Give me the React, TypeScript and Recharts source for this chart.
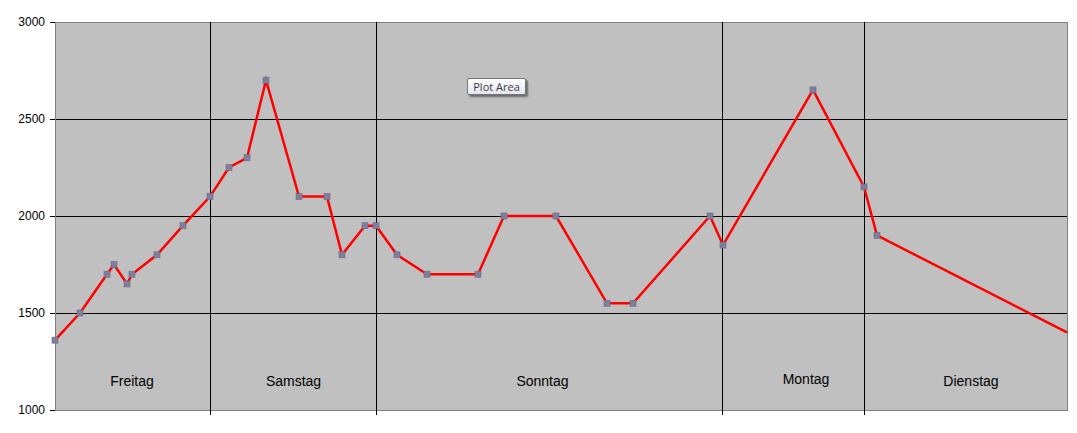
import React from 'react';
import {
  LineChart,
  Line,
  XAxis,
  YAxis,
  CartesianGrid,
  ReferenceArea,
  ReferenceDot,
  ReferenceLine,
} from 'recharts';

// time position (arbitrary units along the axis) and value of each reading
const timePos = [
  0, 2.5, 5.2, 5.9, 7.2, 7.7, 10.2, 12.8, 15.5, 17.4, 19.2, 21.1, 24.4, 27.2,
  28.7, 31.0, 32.1, 34.2, 37.2, 42.3, 44.9, 50.1, 55.2, 57.8, 65.5, 66.8, 75.8,
  80.9, 82.2, 101.2,
];
const values = [
  1360, 1500, 1700, 1750, 1650, 1700, 1800, 1950, 2100, 2250, 2300, 2700, 2100,
  2100, 1800, 1950, 1950, 1800, 1700, 1700, 2000, 2000, 1550, 1550, 2000, 1850,
  2650, 2150, 1900, 1400,
];

// day boundaries and day labels
const dayBoundaries = [15.5, 32.1, 66.7, 80.9];
const dayNames = ['Freitag', 'Samstag', 'Sonntag', 'Montag', 'Dienstag'];
const dayLabelX = [7.7, 23.85, 48.75, 75.1, 91.6];
const dayLabelY = [1150, 1150, 1150, 1160, 1150];

const yTicks = [1000, 1500, 2000, 2500, 3000];
const gridY = [1500, 2000, 2500];
const xDomain = [0, 101.2];

const data = timePos.map((t, i) => ({ t, v: values[i] }));

const FONT = '"Liberation Sans", Arial, sans-serif';

const SquareDot = (props: any) => {
  const { cx, cy, index } = props;
  if (index === data.length - 1 || cx == null || cy == null) return null;
  return (
    <rect
      key={`d${index}`}
      x={cx - 3}
      y={cy - 3}
      width={6}
      height={6}
      fill="#7F7F9C"
      stroke="#6A6A88"
      strokeWidth={0.6}
    />
  );
};

const EmptyTick = () => <g />;

export default function App() {
  return (
    <div style={{ position: 'relative', width: 1069, height: 425, fontFamily: FONT }}>
      <LineChart
        width={1069}
        height={425}
        data={data}
        margin={{ top: 14, right: 10, bottom: 13, left: 0 }}
      >
        <CartesianGrid fill="#C0C0C0" horizontal={false} vertical={false} />
        <XAxis
          type="number"
          dataKey="t"
          domain={xDomain}
          ticks={dayBoundaries}
          height={10}
          tick={EmptyTick}
          tickSize={5}
          tickLine={{ stroke: '#000000', shapeRendering: 'crispEdges' }}
          axisLine={{ stroke: '#808080', shapeRendering: 'crispEdges' }}
        />
        <YAxis
          type="number"
          domain={[1000, 3000]}
          ticks={yTicks}
          width={47}
          tickSize={5}
          tickMargin={5}
          tickLine={{ stroke: '#000000', shapeRendering: 'crispEdges' }}
          axisLine={{ stroke: '#808080', shapeRendering: 'crispEdges' }}
          tick={{ fill: '#000000', fontSize: 12, fontFamily: FONT }}
        />
        {gridY.map((y) => (
          <ReferenceLine
            key={`h${y}`}
            y={y}
            stroke="#000000"
            strokeWidth={1}
            shapeRendering="crispEdges"
          />
        ))}
        {dayBoundaries.map((x) => (
          <ReferenceLine
            key={`v${x}`}
            x={x}
            stroke="#000000"
            strokeWidth={1}
            shapeRendering="crispEdges"
          />
        ))}
        <ReferenceArea
          x1={xDomain[0]}
          x2={xDomain[1]}
          y1={1000}
          y2={3000}
          fill="none"
          fillOpacity={0}
          stroke="#808080"
          strokeWidth={1}
          shapeRendering="crispEdges"
        />
        {dayNames.map((name, i) => (
          <ReferenceDot
            key={name}
            x={dayLabelX[i]}
            y={dayLabelY[i]}
            r={0}
            fill="none"
            stroke="none"
            label={{
              value: name,
              position: 'center',
              fill: '#000000',
              fontSize: 14,
              fontFamily: FONT,
            }}
          />
        ))}
        <Line
          type="linear"
          dataKey="v"
          stroke="#FF0000"
          strokeWidth={2.5}
          dot={<SquareDot />}
          activeDot={false}
          isAnimationActive={false}
        />
      </LineChart>
      <div
        style={{
          position: 'absolute',
          left: 459,
          top: 70,
          width: 57,
          height: 15,
          border: '1px solid #767676',
          borderRadius: 2,
          background: 'linear-gradient(#FFFFFF, #E4E5F0)',
          boxShadow: '2px 2px 2px rgba(0,0,0,0.45)',
          fontFamily: '"Open Sans", "Noto Sans", sans-serif',
          fontSize: 11,
          lineHeight: '15px',
          color: '#3C3C3C',
          textAlign: 'center',
          whiteSpace: 'nowrap',
        }}
      >
        Plot Area
      </div>
    </div>
  );
}
